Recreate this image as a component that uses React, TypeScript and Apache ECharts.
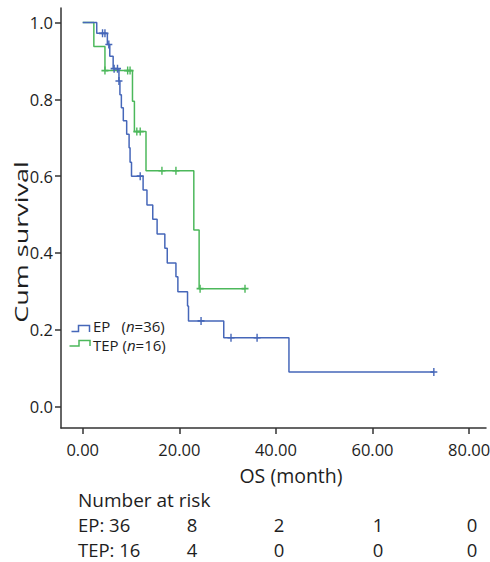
import React, { useEffect, useRef } from "react";
import * as echarts from "echarts";

// ---- Data ----
const xTicks = [0, 20, 40, 60, 80];
const yTicks = [0, 0.2, 0.4, 0.6, 0.8, 1.0];

// EP group: step points (time in months, cumulative survival after the step)
const epTimes = [0, 2.9, 5.1, 5.6, 6.3, 7.5, 7.7, 8.0, 8.4, 9.1, 9.6, 9.8, 10.1, 12.5, 13.3, 14.5, 15.4, 17.0, 17.5, 19.3, 19.7, 21.7, 21.9, 29.2, 42.7, 72.7];
const epSurv = [1.0, 0.972, 0.943, 0.912, 0.88, 0.848, 0.812, 0.778, 0.744, 0.709, 0.674, 0.636, 0.6, 0.564, 0.525, 0.488, 0.449, 0.412, 0.374, 0.338, 0.299, 0.262, 0.223, 0.179, 0.09, 0.09];
const epCensorTimes = [4.1, 4.6, 5.4, 6.5, 7.2, 7.5, 11.9, 24.5, 30.7, 36.1, 72.7];
const epCensorSurv = [0.972, 0.972, 0.943, 0.88, 0.88, 0.848, 0.6, 0.223, 0.179, 0.179, 0.09];

// TEP group
const tepTimes = [0, 2.3, 4.6, 10.3, 10.7, 13.1, 23.0, 24.1, 33.6];
const tepSurv = [1.0, 0.9375, 0.875, 0.795, 0.716, 0.614, 0.46, 0.307, 0.307];
const tepCensorTimes = [4.6, 9.3, 9.8, 11.2, 11.9, 16.4, 19.3, 24.3, 33.6];
const tepCensorSurv = [0.875, 0.875, 0.875, 0.716, 0.716, 0.614, 0.614, 0.307, 0.307];

// Number at risk table
const riskLabels = ["EP: 36", "TEP: 16"];
const epRisk = [8, 2, 1, 0];
const tepRisk = [4, 0, 0, 0];

const EP_COLOR = "#4667b9";
const TEP_COLOR = "#4cb85b";
const FONT = "'Open Sans', 'Noto Sans', 'DejaVu Sans', sans-serif";
const TEXT_COLOR = "#1e1e1e";
const AXIS_COLOR = "#333333";

const zip = (a: number[], b: number[]) => a.map((v, i) => [v, b[i]]);

export default function App() {
  const ref = useRef<HTMLDivElement>(null);

  useEffect(() => {
    if (!ref.current) return;
    const chart = echarts.init(ref.current, null, { renderer: "svg" });

    const censorSymbol = "path://M4 0L4 8M0 4L8 4";

    const riskCols = [192, 279, 378, 472];
    const riskRowsY = [524.5, 549];
    const riskText: any[] = [];
    [epRisk, tepRisk].forEach((row, r) => {
      riskText.push({
        type: "text",
        x: 78,
        y: riskRowsY[r],
        style: {
          text: riskLabels[r],
          fontSize: 18.5,
          lineHeight: 19,
          fontFamily: FONT,
          fill: TEXT_COLOR,
          verticalAlign: "middle",
        },
      });
      row.forEach((v, c) => {
        riskText.push({
          type: "text",
          x: riskCols[c],
          y: riskRowsY[r],
          style: {
            text: String(v),
            fontSize: 18.5,
            lineHeight: 19,
            fontFamily: FONT,
            fill: TEXT_COLOR,
            align: "center",
            verticalAlign: "middle",
          },
        });
      });
    });

    const option: any = {
      animation: false,
      grid: { left: 61, right: 4, top: 8, bottom: 134, containLabel: false, outerBoundsMode: "none" },
      xAxis: {
        type: "value",
        min: -4.5,
        max: 83.5,
        axisLine: { show: true, onZero: false, lineStyle: { color: AXIS_COLOR, width: 1.5 } },
        axisTick: { show: true, length: 6, customValues: xTicks, lineStyle: { color: AXIS_COLOR, width: 1.5 } },
        axisLabel: {
          customValues: xTicks,
          formatter: (v: number) => v.toFixed(2),
          fontSize: 16.5,
          lineHeight: 17,
          fontFamily: FONT,
          color: TEXT_COLOR,
          margin: 13,
        },
        splitLine: { show: false },
      },
      yAxis: {
        type: "value",
        min: -0.056,
        max: 1.038,
        axisLine: { show: true, onZero: false, lineStyle: { color: AXIS_COLOR, width: 1.5 } },
        axisTick: { show: true, length: 6, customValues: yTicks, lineStyle: { color: AXIS_COLOR, width: 1.5 } },
        axisLabel: {
          customValues: yTicks,
          formatter: (v: number) => v.toFixed(1),
          fontSize: 16.5,
          fontFamily: FONT,
          color: TEXT_COLOR,
          margin: 8,
        },
        splitLine: { show: false },
      },
      series: [
        {
          type: "line",
          name: "EP",
          step: "end",
          data: zip(epTimes, epSurv),
          showSymbol: false,
          lineStyle: { color: EP_COLOR, width: 1.5 },
          itemStyle: { color: EP_COLOR },
          z: 3,
        },
        {
          type: "line",
          name: "TEP",
          step: "end",
          data: zip(tepTimes, tepSurv),
          showSymbol: false,
          lineStyle: { color: TEP_COLOR, width: 1.5 },
          itemStyle: { color: TEP_COLOR },
          z: 2,
        },
        {
          type: "scatter",
          name: "EP censored",
          data: zip(epCensorTimes, epCensorSurv),
          symbol: censorSymbol,
          symbolSize: [7, 8],
          itemStyle: { color: "rgba(0,0,0,0)", borderColor: EP_COLOR, borderWidth: 1.5, opacity: 1 },
          z: 4,
        },
        {
          type: "scatter",
          name: "TEP censored",
          data: zip(tepCensorTimes, tepCensorSurv),
          symbol: censorSymbol,
          symbolSize: [7, 8],
          itemStyle: { color: "rgba(0,0,0,0)", borderColor: TEP_COLOR, borderWidth: 1.5, opacity: 1 },
          z: 4,
        },
      ],
      graphic: [
        // y axis title
        {
          type: "text",
          x: 21,
          y: 242,
          rotation: Math.PI / 2,
          scaleX: 1.42,
          style: {
            text: "Cum survival",
            fontSize: 19,
            lineHeight: 20,
            fontFamily: FONT,
            fill: TEXT_COLOR,
            align: "center",
            verticalAlign: "middle",
          },
        },
        // x axis title
        {
          type: "text",
          x: 291,
          y: 475,
          style: {
            text: "OS (month)",
            fontSize: 19.5,
            lineHeight: 20,
            fontFamily: FONT,
            fill: TEXT_COLOR,
            align: "center",
            verticalAlign: "middle",
          },
        },
        // legend icons
        {
          type: "polyline",
          shape: { points: [[71.5, 331.5], [78.5, 331.5], [78.5, 325.5], [89.5, 325.5], [89.5, 332]] },
          style: { stroke: EP_COLOR, lineWidth: 1.5, fill: "none" },
        },
        {
          type: "polyline",
          shape: { points: [[69.5, 346], [79, 346], [79, 340.5], [90, 340.5], [90, 346]] },
          style: { stroke: TEP_COLOR, lineWidth: 1.5, fill: "none" },
        },
        // legend texts
        {
          type: "text",
          x: 93,
          y: 325.5,
          style: { text: "EP", fontSize: 15, lineHeight: 15, fontFamily: FONT, fill: TEXT_COLOR, verticalAlign: "middle" },
        },
        {
          type: "text",
          x: 121.5,
          y: 325.5,
          style: {
            text: "({i|n}=36)",
            fontSize: 15,
            lineHeight: 15,
            fontFamily: FONT,
            fill: TEXT_COLOR,
            verticalAlign: "middle",
            rich: { i: { fontStyle: "italic", fontSize: 15, lineHeight: 15, fontFamily: FONT, fill: TEXT_COLOR } },
          },
        },
        {
          type: "text",
          x: 93,
          y: 345,
          style: { text: "TEP", fontSize: 15, lineHeight: 15, fontFamily: FONT, fill: TEXT_COLOR, verticalAlign: "middle" },
        },
        {
          type: "text",
          x: 122.5,
          y: 345,
          style: {
            text: "({i|n}=16)",
            fontSize: 15,
            lineHeight: 15,
            fontFamily: FONT,
            fill: TEXT_COLOR,
            verticalAlign: "middle",
            rich: { i: { fontStyle: "italic", fontSize: 15, lineHeight: 15, fontFamily: FONT, fill: TEXT_COLOR } },
          },
        },
        // number at risk
        {
          type: "text",
          x: 78,
          y: 500,
          style: {
            text: "Number at risk",
            fontSize: 19,
            lineHeight: 19,
            fontFamily: FONT,
            fill: TEXT_COLOR,
            verticalAlign: "middle",
          },
        },
        ...riskText,
      ],
    };

    chart.setOption(option);
    return () => chart.dispose();
  }, []);

  return (
    <div
      ref={ref}
      style={{ position: "fixed", left: 0, top: 0, width: 490, height: 562, background: "#ffffff" }}
    />
  );
}
